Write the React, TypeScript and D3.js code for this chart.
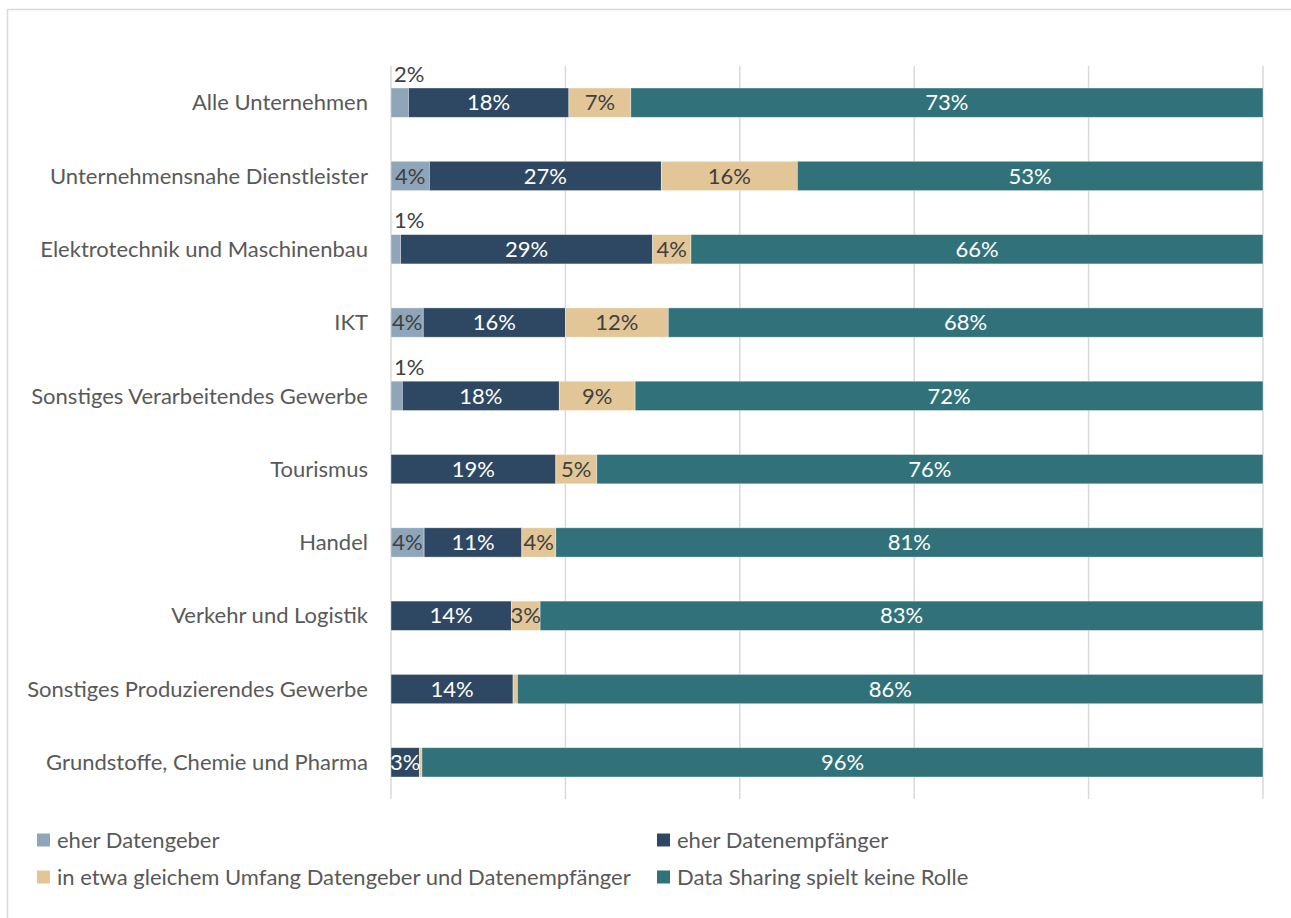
import React from "react";
import * as d3 from "d3";

const categories = [
  "Alle Unternehmen",
  "Unternehmensnahe Dienstleister",
  "Elektrotechnik und Maschinenbau",
  "IKT",
  "Sonstiges Verarbeitendes Gewerbe",
  "Tourismus",
  "Handel",
  "Verkehr und Logistik",
  "Sonstiges Produzierendes Gewerbe",
  "Grundstoffe, Chemie und Pharma",
];

const seriesNames = [
  "eher Datengeber",
  "eher Datenempfänger",
  "in etwa gleichem Umfang Datengeber und Datenempfänger",
  "Data Sharing spielt keine Rolle",
];

const eherDatengeber = [2.0, 4.4, 1.1, 3.7, 1.3, 0, 3.8, 0, 0, 0];
const eherDatenempfaenger = [18.4, 26.6, 28.9, 16.3, 18.0, 18.9, 11.2, 13.8, 14.0, 3.25];
const gleichemUmfang = [7.1, 15.6, 4.4, 11.8, 8.7, 4.7, 3.9, 3.3, 0.5, 0.3];
const keineRolle = [72.5, 53.4, 65.6, 68.2, 72.0, 76.4, 81.1, 82.9, 85.5, 96.45];

const xTicks = [0, 20, 40, 60, 80, 100];

const colors = ["#8FA5BA", "#2E4863", "#E2C697", "#31727A"];
const labelColors = ["#404040", "#FFFFFF", "#404040", "#FFFFFF"];

const FONT = "Lato, 'Noto Sans', sans-serif";

export default function App() {
  const W = 1291;
  const H = 918;
  const x = d3.scaleLinear().domain([0, 100]).range([391, 1263]);
  const y = d3
    .scaleBand<string>()
    .domain(categories)
    .range([66, 799])
    .paddingInner(0.6)
    .paddingOuter(0.3);

  const rows = categories.map((c, i) => ({
    cat: c,
    eherDatengeber: eherDatengeber[i],
    eherDatenempfaenger: eherDatenempfaenger[i],
    gleichemUmfang: gleichemUmfang[i],
    keineRolle: keineRolle[i],
  }));
  const keys = ["eherDatengeber", "eherDatenempfaenger", "gleichemUmfang", "keineRolle"];
  const stacked = d3.stack<any>().keys(keys)(rows);

  const fs = 22;

  const legendItems = [
    { name: seriesNames[0], color: colors[0], x: 37, y: 840 },
    { name: seriesNames[1], color: colors[1], x: 657, y: 840 },
    { name: seriesNames[2], color: colors[2], x: 37, y: 877 },
    { name: seriesNames[3], color: colors[3], x: 657, y: 877 },
  ];

  return (
    <svg
      width={W}
      height={H}
      style={{ position: "absolute", left: 0, top: 0, background: "#fff" }}
      fontFamily={FONT}
    >
      <rect x={0} y={0} width={W} height={H} fill="#fff" />
      <rect x={7.5} y={9.5} width={W + 20} height={H + 20} fill="none" stroke="#D9D9D9" strokeWidth={1.5} />
      {xTicks.map((t) => (
        <line
          key={t}
          x1={x(t)}
          x2={x(t)}
          y1={66}
          y2={799}
          stroke="#D9D9D9"
          strokeWidth={1.5}
        />
      ))}
      {stacked.map((s, si) => (
        <g key={si}>
          {s.map((d, i) => {
            const w = x(d[1]) - x(d[0]);
            if (w <= 0) return null;
            return (
              <rect
                key={i}
                x={x(d[0])}
                y={y(categories[i])!}
                width={w}
                height={y.bandwidth()}
                fill={colors[si]}
                stroke="#FFFFFF"
                strokeOpacity={0.5}
                strokeWidth={0.75}
              />
            );
          })}
        </g>
      ))}
      {stacked.map((s, si) => (
        <g key={"l" + si}>
          {s.map((d, i) => {
            const v = d[1] - d[0];
            if (v < 1) return null;
            const label = Math.round(v) + "%";
            const yc = y(categories[i])! + y.bandwidth() / 2;
            if (si === 0 && v <= 2) {
              return (
                <text
                  key={i}
                  x={x(d[0]) + 3}
                  y={y(categories[i])! - 14}
                  dy="0.35em"
                  fontSize={fs}
                  fill="#404040"
                  textAnchor="start"
                >
                  {label}
                </text>
              );
            }
            return (
              <text
                key={i}
                x={(x(d[0]) + x(d[1])) / 2}
                y={yc}
                dy="0.35em"
                fontSize={fs}
                fill={labelColors[si]}
                textAnchor="middle"
              >
                {label}
              </text>
            );
          })}
        </g>
      ))}
      {categories.map((c) => (
        <text
          key={c}
          x={368}
          y={y(c)! + y.bandwidth() / 2}
          dy="0.35em"
          textAnchor="end"
          fontSize={fs}
          fill="#595959"
        >
          {c}
        </text>
      ))}
      {legendItems.map((l) => (
        <g key={l.name}>
          <rect x={l.x} y={l.y - 6.5} width={13} height={13} fill={l.color} />
          <text x={l.x + 20} y={l.y} dy="0.35em" fontSize={fs} fill="#595959">
            {l.name}
          </text>
        </g>
      ))}
    </svg>
  );
}
